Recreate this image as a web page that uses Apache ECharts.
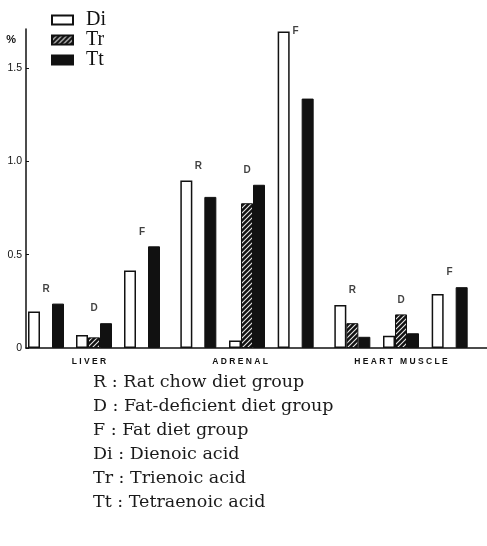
<!DOCTYPE html>
<html>
<head>
<meta charset="utf-8">
<script src="https://cdn.jsdelivr.net/npm/echarts@6/dist/echarts.min.js"></script>
<style>html,body{margin:0;padding:0;background:#fff;}#c{width:487px;height:546px;}</style>
</head>
<body>
<div id="c"></div>
<script>
// ---- data ----
const groups = ['R', 'D', 'F'];
const tissues = ['L I V E R', 'A D R E N A L', 'H E A R T   M U S C L E'];
const seriesNames = ['Di', 'Tr', 'Tt'];
const liverDi = [0.195, 0.07, 0.415];
const liverTr = [null, 0.057, null];
const liverTt = [0.238, 0.133, 0.545];
const adrenalDi = [0.898, 0.04, 1.697];
const adrenalTr = [null, 0.776, null];
const adrenalTt = [0.81, 0.875, 1.337];
const heartDi = [0.231, 0.066, 0.29];
const heartTr = [0.133, 0.18, null];
const heartTt = [0.06, 0.079, 0.326];
const yTickLabels = ['0', '0.5', '1.0', '1.5'];
const yMax = 1.71;
const footnotes = [
  'R : Rat chow diet group',
  'D : Fat-deficient diet group',
  'F : Fat diet group',
  'Di : Dienoic acid',
  'Tr : Trienoic acid',
  'Tt : Tetraenoic acid'
];

// ---- chart ----
const tissueData = [
  [liverDi, liverTr, liverTt],
  [adrenalDi, adrenalTr, adrenalTt],
  [heartDi, heartTr, heartTt]
];
const ink = '#111';

// hatch pattern: white "/" lines on black
const tile = document.createElement('canvas');
tile.width = 5; tile.height = 5;
(function () {
  const c = tile.getContext('2d');
  c.fillStyle = ink; c.fillRect(0, 0, 5, 5);
  c.strokeStyle = 'rgba(255,255,255,0.9)'; c.lineWidth = 1.1;
  c.beginPath();
  c.moveTo(-1, 6); c.lineTo(6, -1);
  c.moveTo(-1, 1); c.lineTo(1, -1);
  c.moveTo(4, 6); c.lineTo(6, 4);
  c.stroke();
})();

const styles = [
  { color: '#fff', borderColor: ink, borderWidth: 1.5 },
  { color: { image: tile, repeat: 'repeat' }, borderColor: ink, borderWidth: 1 },
  { color: ink, borderColor: ink, borderWidth: 1 }
];

const gridTop = 29, gridBottom = 198;
const grids = [
  { left: 26, right: 0, top: gridTop, bottom: gridBottom },
  { left: 22, width: 144, top: gridTop, bottom: gridBottom },
  { left: 174, width: 146, top: gridTop, bottom: gridBottom },
  { left: 328, width: 146, top: gridTop, bottom: gridBottom }
];
const nameShift = [10, 14, 0];

const xAxes = [{
  gridIndex: 0, type: 'value', min: 0, max: 1,
  axisLine: { show: true, onZero: false, lineStyle: { color: ink, width: 1.5 } },
  axisTick: { show: false }, axisLabel: { show: false }, splitLine: { show: false }
}];
const yAxes = [{
  gridIndex: 0, type: 'value', min: 0, max: yMax, interval: 0.5,
  axisLine: { show: true, lineStyle: { color: ink, width: 1.5 } },
  axisTick: { show: true, inside: true, length: 3, lineStyle: { color: ink } },
  axisLabel: {
    showMaxLabel: false, margin: 4, color: ink,
    fontFamily: 'Liberation Sans Narrow, Liberation Sans, sans-serif', fontSize: 10.5,
    formatter: function (v) { return yTickLabels[Math.round(v / 0.5)] || ''; }
  },
  splitLine: { show: false },
  name: '%', nameLocation: 'end', nameGap: -16,
  nameTextStyle: { align: 'right', padding: [0, 10, 0, 0], color: ink, fontSize: 11, fontWeight: 'bold' }
}];
const series = [];
tissueData.forEach(function (td, t) {
  const gi = t + 1;
  xAxes.push({
    gridIndex: gi, type: 'category', data: groups,
    axisLine: { show: false }, axisTick: { show: false }, axisLabel: { show: false },
    name: tissues[t], nameLocation: 'middle', nameGap: 9,
    nameTextStyle: { color: ink, fontSize: 8.5, fontWeight: 'bold',
                     fontFamily: 'Liberation Sans, sans-serif',
                     padding: [0, nameShift[t], 0, 0] }
  });
  yAxes.push({ gridIndex: gi, type: 'value', min: 0, max: yMax, show: false });
  td.forEach(function (vals, s) {
    series.push({
      type: 'bar', name: seriesNames[s], xAxisIndex: gi, yAxisIndex: gi,
      data: vals, barWidth: 12, barGap: '0%', itemStyle: styles[s], silent: true
    });
  });
  const maxes = groups.map(function (g, i) {
    const v = Math.max(td[0][i] || 0, td[1][i] || 0, td[2][i] || 0);
    const item = { value: v };
    if (v > yMax - 0.1) item.label = { position: 'inside', offset: [0, 0] };
    return item;
  });
  series.push({
    type: 'scatter', xAxisIndex: gi, yAxisIndex: gi, data: maxes,
    symbolSize: 1, itemStyle: { color: 'rgba(0,0,0,0)' }, silent: true,
    label: {
      show: true, position: 'top', distance: 9, color: ink,
      fontSize: 10, fontWeight: 'bold', fontFamily: 'Liberation Sans, sans-serif',
      formatter: function (p) { return groups[p.dataIndex]; }
    }
  });
});

const chart = echarts.init(document.getElementById('c'));
chart.setOption({
  animation: false,
  backgroundColor: '#fff',
  title: {
    text: footnotes.join('\n'), left: 88, top: 365,
    textStyle: { fontFamily: 'DejaVu Serif, serif', fontSize: 17.5, lineHeight: 24,
                 fontWeight: 'normal', color: '#1a1a1a' }
  },
  legend: {
    data: seriesNames, orient: 'vertical', left: 51, top: 10, padding: 0,
    itemWidth: 21, itemHeight: 9, itemGap: 0, icon: 'rect',
    textStyle: { fontFamily: 'Liberation Serif, serif', fontSize: 20, lineHeight: 17.5,
                 color: ink, padding: [0, 0, 0, 8] }
  },
  grid: grids,
  xAxis: xAxes,
  yAxis: yAxes,
  series: series
});
</script>
</body>
</html>
